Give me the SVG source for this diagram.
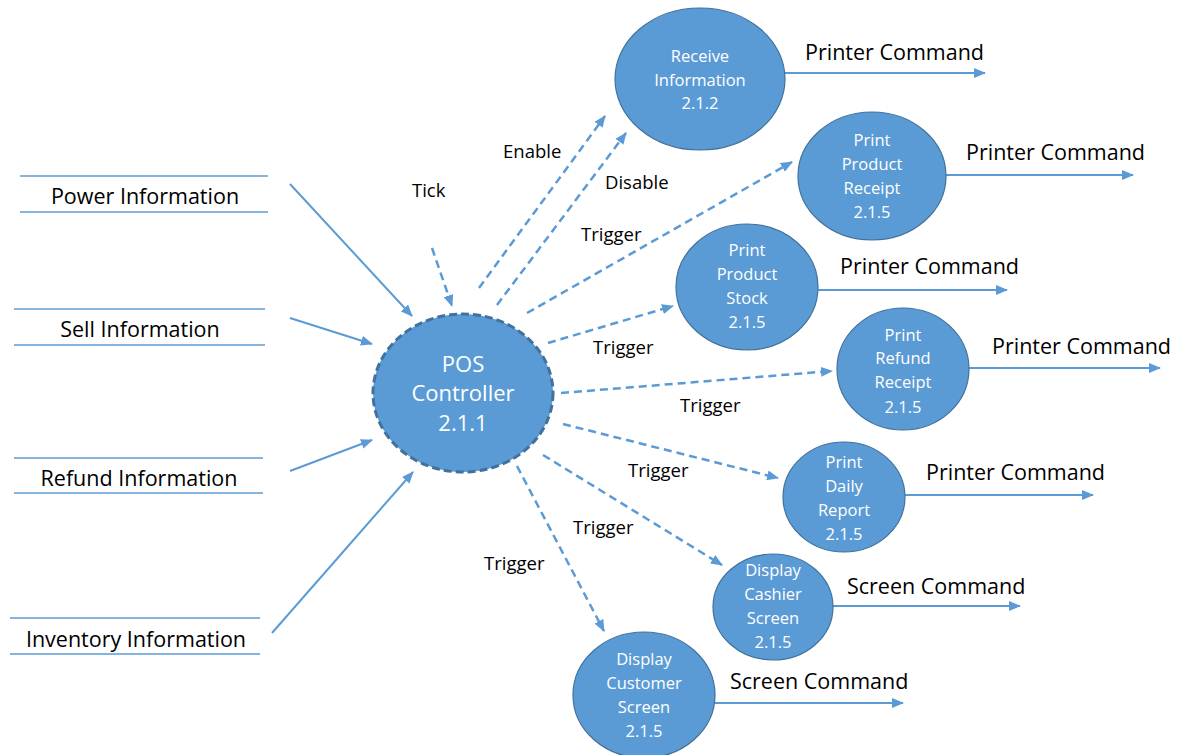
<svg xmlns="http://www.w3.org/2000/svg" width="1182" height="755" viewBox="0 0 1182 755">
<defs>
<marker id="ah" markerWidth="12" markerHeight="10" refX="11" refY="5" orient="auto" markerUnits="userSpaceOnUse">
<path d="M0,0 L12,5 L0,10 Z" fill="#5B9BD5"/>
</marker>
</defs>
<style>
.node{fill:#5B9BD5;stroke:#41719C;stroke-width:1.2}
.main{fill:#5B9BD5;stroke:#41719C;stroke-width:3;stroke-dasharray:8 4}
.nt{fill:#fff;font-family:"Open Sans",sans-serif;font-size:16.5px;text-anchor:middle}
.mt{fill:#fff;font-family:"Open Sans",sans-serif;font-size:22px;text-anchor:middle}
.lbl{fill:#000;font-family:"Open Sans",sans-serif;font-size:18.5px}
.big{fill:#000;font-family:"Open Sans",sans-serif;font-size:21.5px}
.solid{stroke:#5B9BD5;stroke-width:2;fill:none}
.dash{stroke:#5B9BD5;stroke-width:2.5;fill:none;stroke-dasharray:8 5}
.bar{stroke:#5B9BD5;stroke-width:1.5}
</style>
<rect width="1182" height="755" fill="#fff"/>
<g id="connectors">
<line class="solid" x1="290" y1="184" x2="412" y2="316" marker-end="url(#ah)"/>
<line class="solid" x1="290" y1="318" x2="372" y2="344" marker-end="url(#ah)"/>
<line class="solid" x1="290" y1="471" x2="372" y2="440" marker-end="url(#ah)"/>
<line class="solid" x1="272" y1="633" x2="413" y2="472" marker-end="url(#ah)"/>
<line class="dash" x1="432" y1="248" x2="452" y2="306" marker-end="url(#ah)"/>
<line class="dash" x1="479" y1="288" x2="605" y2="116" marker-end="url(#ah)"/>
<line class="dash" x1="497" y1="305" x2="626" y2="133" marker-end="url(#ah)"/>
<line class="dash" x1="527" y1="313" x2="792" y2="162" marker-end="url(#ah)"/>
<line class="dash" x1="548" y1="343" x2="673" y2="306" marker-end="url(#ah)"/>
<line class="dash" x1="561" y1="393" x2="832" y2="371" marker-end="url(#ah)"/>
<line class="dash" x1="563" y1="424" x2="778" y2="478" marker-end="url(#ah)"/>
<line class="dash" x1="543" y1="455" x2="722" y2="565" marker-end="url(#ah)"/>
<line class="dash" x1="517" y1="466" x2="604" y2="631" marker-end="url(#ah)"/>
<line class="solid" x1="784" y1="73" x2="985" y2="73" marker-end="url(#ah)"/>
<line class="solid" x1="946" y1="175" x2="1133" y2="175" marker-end="url(#ah)"/>
<line class="solid" x1="818" y1="290" x2="1007" y2="290" marker-end="url(#ah)"/>
<line class="solid" x1="969" y1="368" x2="1160" y2="368" marker-end="url(#ah)"/>
<line class="solid" x1="905" y1="495" x2="1093" y2="495" marker-end="url(#ah)"/>
<line class="solid" x1="833" y1="606" x2="1020" y2="606" marker-end="url(#ah)"/>
<line class="solid" x1="715" y1="703" x2="903" y2="703" marker-end="url(#ah)"/>
<text class="lbl" x="412" y="197">Tick</text>
<text class="lbl" x="503" y="158">Enable</text>
<text class="lbl" x="605" y="189">Disable</text>
<text class="lbl" x="581" y="241">Trigger</text>
<text class="lbl" x="593" y="354">Trigger</text>
<text class="lbl" x="680" y="412">Trigger</text>
<text class="lbl" x="628" y="477">Trigger</text>
<text class="lbl" x="573" y="534">Trigger</text>
<text class="lbl" x="484" y="570">Trigger</text>
<text class="big" x="805" y="60">Printer Command</text>
<text class="big" x="966" y="160">Printer Command</text>
<text class="big" x="840" y="274">Printer Command</text>
<text class="big" x="992" y="354">Printer Command</text>
<text class="big" x="926" y="480">Printer Command</text>
<text class="big" x="847" y="594">Screen Command</text>
<text class="big" x="730" y="689">Screen Command</text>
</g>
<g id="power">
<line class="bar" x1="20" y1="176" x2="268" y2="176"/>
<line class="bar" x1="20" y1="212" x2="268" y2="212"/>
<text class="big" x="145" y="204" text-anchor="middle">Power Information</text>
</g>
<g id="sell">
<line class="bar" x1="14" y1="309" x2="265" y2="309"/>
<line class="bar" x1="14" y1="345" x2="265" y2="345"/>
<text class="big" x="140" y="337" text-anchor="middle">Sell Information</text>
</g>
<g id="refund">
<line class="bar" x1="14" y1="458" x2="263" y2="458"/>
<line class="bar" x1="14" y1="493" x2="263" y2="493"/>
<text class="big" x="139" y="486" text-anchor="middle">Refund Information</text>
</g>
<g id="inventory">
<line class="bar" x1="10" y1="618" x2="260" y2="618"/>
<line class="bar" x1="10" y1="654" x2="260" y2="654"/>
<text class="big" x="136" y="647" text-anchor="middle">Inventory Information</text>
</g>
<g id="pos">
<ellipse class="main" cx="463" cy="393" rx="90" ry="79"/>
<text class="mt" x="463" y="372">POS</text>
<text class="mt" x="463" y="401">Controller</text>
<text class="mt" x="463" y="431">2.1.1</text>
</g>
<g id="receive">
<ellipse class="node" cx="700" cy="79" rx="85" ry="71"/>
<text class="nt" x="700" y="62">Receive</text>
<text class="nt" x="700" y="86">Information</text>
<text class="nt" x="700" y="109">2.1.2</text>
</g>
<g id="productReceipt">
<ellipse class="node" cx="872" cy="176" rx="74" ry="64"/>
<text class="nt" x="872" y="146">Print</text>
<text class="nt" x="872" y="170">Product</text>
<text class="nt" x="872" y="194">Receipt</text>
<text class="nt" x="872" y="218">2.1.5</text>
</g>
<g id="productStock">
<ellipse class="node" cx="747" cy="287" rx="71" ry="63"/>
<text class="nt" x="747" y="256">Print</text>
<text class="nt" x="747" y="280">Product</text>
<text class="nt" x="747" y="304">Stock</text>
<text class="nt" x="747" y="328">2.1.5</text>
</g>
<g id="refundReceipt">
<ellipse class="node" cx="903" cy="369" rx="66" ry="61"/>
<text class="nt" x="903" y="341">Print</text>
<text class="nt" x="903" y="364">Refund</text>
<text class="nt" x="903" y="388">Receipt</text>
<text class="nt" x="903" y="413">2.1.5</text>
</g>
<g id="dailyReport">
<ellipse class="node" cx="844" cy="497" rx="61" ry="55"/>
<text class="nt" x="844" y="468">Print</text>
<text class="nt" x="844" y="492">Daily</text>
<text class="nt" x="844" y="516">Report</text>
<text class="nt" x="844" y="540">2.1.5</text>
</g>
<g id="cashierScreen">
<ellipse class="node" cx="773" cy="607" rx="60" ry="53"/>
<text class="nt" x="773" y="576">Display</text>
<text class="nt" x="773" y="600">Cashier</text>
<text class="nt" x="773" y="624">Screen</text>
<text class="nt" x="773" y="648">2.1.5</text>
</g>
<g id="customerScreen">
<ellipse class="node" cx="644" cy="695" rx="71" ry="63"/>
<text class="nt" x="644" y="665">Display</text>
<text class="nt" x="644" y="689">Customer</text>
<text class="nt" x="644" y="713">Screen</text>
<text class="nt" x="644" y="737">2.1.5</text>
</g>
</svg>
